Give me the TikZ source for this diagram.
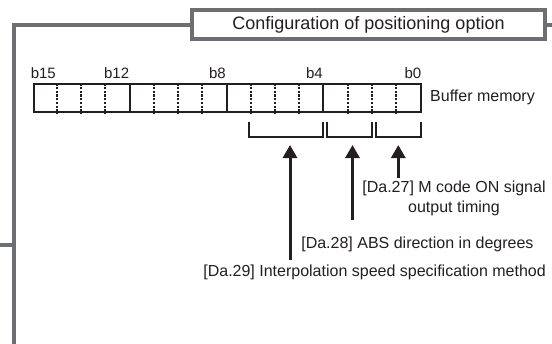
\documentclass[tikz,border=0pt]{standalone}
\usepackage{fontspec}
\setmainfont{Liberation Sans}
\usetikzlibrary{arrows.meta,calc}
\definecolor{framegray}{RGB}{109,110,113}
\definecolor{ink}{RGB}{35,31,32}
\tikzset{
  frame/.style={draw=framegray, line width=4pt},
  titlebox/.style={frame, fill=white, minimum width=353pt, minimum height=29pt, inner sep=0pt,
    font=\fontsize{18}{20}\selectfont, text=ink},
  regbox/.style={draw=ink, line width=2pt, minimum width=387.6pt, minimum height=28pt, inner sep=0pt},
  soliddiv/.style={draw=ink, line width=2pt},
  dotdiv/.style={draw=ink, line width=2.2pt, dash pattern=on 2.2pt off 1.5pt},
  bitlbl/.style={font=\fontsize{15}{17}\selectfont, text=ink, anchor=base east, inner sep=0pt},
  lbl/.style={font=\fontsize{16}{19.5}\selectfont, text=ink, inner sep=0pt},
  brk/.style={draw=ink, line width=2pt},
  arr/.style={draw=ink, line width=3pt, -{Triangle[width=14pt,length=13pt]}},
}
\begin{document}
\begin{tikzpicture}[x=1pt,y=-1pt]
\useasboundingbox (0,0) rectangle (552,343);
\fill[white] (0,0) rectangle (552,343);

% frame and title
\node[titlebox] (title) at (368.5,24.5) {Configuration of positioning option};
\coordinate (fcorner) at (14,24.5);
\coordinate (fbottom) at (14,350);
\coordinate (fright) at (556,24.5);
\coordinate (fstubL) at (-4,245);
\coordinate (fstubR) at (14,245);
\draw[frame] (title.west) -- (fcorner) -- (fbottom);
\draw[frame] (title.east) -- (fright);
\draw[frame] (fstubL) -- (fstubR);

% register
\node[regbox] (reg) at (227.5,98.3) {};
\foreach \i in {4,8,12}
  \draw[soliddiv] ($(reg.north west)+(\i*24.225,0)$) -- ($(reg.south west)+(\i*24.225,0)$);
\foreach \i in {1,2,3,5,6,7,9,10,11,13,14,15}
  \draw[dotdiv] ($(reg.north west)+(\i*24.225,0)$) -- ($(reg.south west)+(\i*24.225,0)$);

% bit labels
\node[bitlbl] (b15) at (56,78.3) {b15};
\node[bitlbl] (b12) at (129.3,78.3) {b12};
\node[bitlbl] (b8) at (226,78.3) {b8};
\node[bitlbl] (b4) at (323,78.3) {b4};
\node[bitlbl] (b0) at (421.5,78.3) {b0};

\node[lbl, anchor=base west] (buf) at (430,101.7) {Buffer memory};

% brackets
\draw[brk] (249.3,121.7) -- (249.3,137.3) -- (323.3,137.3) -- (323.3,121.7);
\draw[brk] (326.8,121.7) -- (326.8,137.3) -- (371.7,137.3) -- (371.7,121.7);
\draw[brk] (375.7,121.7) -- (375.7,137.3) -- (421,137.3) -- (421,121.7);
\coordinate (t1) at (290,145);
\coordinate (t2) at (352.5,145);
\coordinate (t3) at (398.3,145);

% labels
\node[lbl, anchor=base, align=center] (l27) at (454,212) {[Da.27] M code ON signal\\output timing};
\node[lbl, anchor=base] (l28) at (417.4,248.3) {[Da.28] ABS direction in degrees};
\node[lbl, anchor=base east] (l29) at (546,276) {[Da.29] Interpolation speed specification method};

\coordinate (s1) at (290,260);
\coordinate (s2) at (352.5,220);
\coordinate (s3) at (398.3,178.3);
\draw[arr] (s1) -- (t1);
\draw[arr] (s2) -- (t2);
\draw[arr] (s3) -- (t3);
\end{tikzpicture}
\end{document}
